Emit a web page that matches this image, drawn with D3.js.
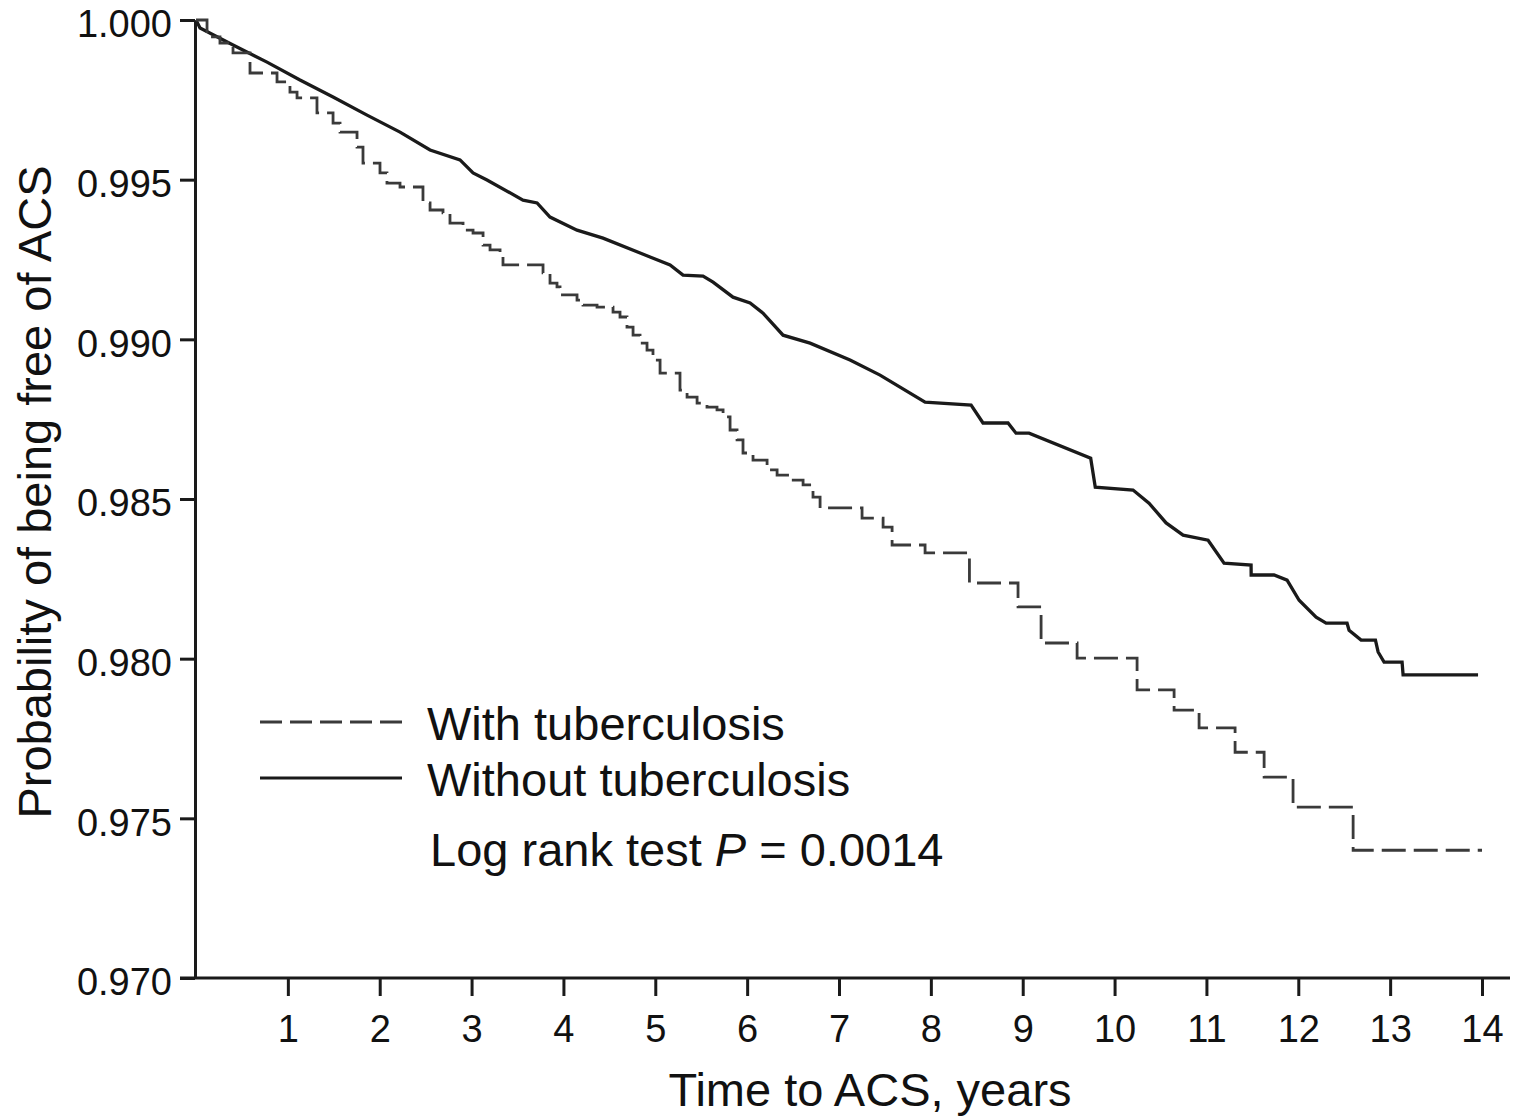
<!DOCTYPE html>
<html>
<head>
<meta charset="utf-8">
<script src="https://cdn.jsdelivr.net/npm/d3@7"></script>
<style>
  html, body { margin: 0; padding: 0; background: #fff; }
  svg { display: block; font-family: "Liberation Sans", Arial, sans-serif; }
</style>
</head>
<body>
<svg id="chart" width="1518" height="1117"></svg>
<script>
// ---- Data ----
const xTicks = [1, 2, 3, 4, 5, 6, 7, 8, 9, 10, 11, 12, 13, 14];
const yTicks = [0.970, 0.975, 0.980, 0.985, 0.990, 0.995, 1.000];

// With tuberculosis (step function: level after each event time)
const timeWithTB = [0, 0.120, 0.261, 0.403, 0.588, 0.882, 1.023, 1.100, 1.317, 1.492, 1.568, 1.753, 1.818,
  2.003, 2.079, 2.221, 2.471, 2.548, 2.689, 2.765, 2.907, 3.016, 3.125, 3.201, 3.310, 3.342, 3.778, 3.854,
  3.930, 3.963, 4.148, 4.213, 4.366, 4.540, 4.616, 4.692, 4.758, 4.834, 4.910, 4.975, 5.052, 5.269, 5.346,
  5.455, 5.563, 5.672, 5.738, 5.814, 5.890, 5.955, 6.064, 6.217, 6.326, 6.467, 6.609, 6.717, 6.794, 7.251,
  7.480, 7.578, 7.937, 8.420, 8.949, 9.200, 9.592, 10.245, 10.648, 10.920, 11.312, 11.628, 11.943, 12.597, 14.0];
const survWithTB = [1.0000, 0.99947, 0.99928, 0.99897, 0.99834, 0.99806, 0.99774, 0.99756, 0.99709, 0.99677,
  0.99649, 0.99602, 0.99552, 0.99521, 0.99489, 0.99477, 0.99427, 0.99405, 0.99396, 0.99364, 0.99342, 0.99333,
  0.99295, 0.99280, 0.99258, 0.99233, 0.99208, 0.99176, 0.99164, 0.99139, 0.99123, 0.99107, 0.99101, 0.99085,
  0.99070, 0.99038, 0.99013, 0.98988, 0.98966, 0.98935, 0.98894, 0.98841, 0.98819, 0.98800, 0.98788, 0.98779,
  0.98757, 0.98716, 0.98685, 0.98644, 0.98622, 0.98591, 0.98575, 0.98559, 0.98544, 0.98506, 0.98472, 0.98440,
  0.98412, 0.98356, 0.98331, 0.98237, 0.98162, 0.98049, 0.98002, 0.97902, 0.97839, 0.97783, 0.97707, 0.97629,
  0.97535, 0.97400, 0.97400];

// Without tuberculosis (dense curve traced through its corners)
const timeWithoutTB = [0, 0.044, 0.403, 0.773, 1.132, 1.492, 1.862, 2.221, 2.548, 2.874, 3.016, 3.168, 3.560,
  3.713, 3.854, 4.148, 4.431, 4.943, 5.161, 5.302, 5.520, 5.629, 5.846, 6.032, 6.173, 6.391, 6.685, 7.120,
  7.447, 7.937, 8.438, 8.568, 8.840, 8.927, 9.069, 9.740, 9.790, 10.201, 10.375, 10.561, 10.746, 11.018,
  11.192, 11.486, 11.487, 11.736, 11.878, 12.009, 12.194, 12.303, 12.531, 12.553, 12.684, 12.840, 12.869,
  12.934, 13.130, 13.141, 13.957];
const survWithoutTB = [1.0000, 0.99975, 0.99922, 0.99868, 0.99812, 0.99759, 0.99702, 0.99649, 0.99593,
  0.99562, 0.99521, 0.99499, 0.99436, 0.99427, 0.99383, 0.99342, 0.99317, 0.99258, 0.99233, 0.99201, 0.99198,
  0.99179, 0.99132, 0.99114, 0.99082, 0.99013, 0.98988, 0.98935, 0.98888, 0.98803, 0.98794, 0.98738, 0.98738,
  0.98706, 0.98706, 0.98628, 0.98537, 0.98528, 0.98487, 0.98425, 0.98387, 0.98371, 0.98299, 0.98293, 0.98262,
  0.98262, 0.98246, 0.98183, 0.98130, 0.98111, 0.98111, 0.98089, 0.98058, 0.98058, 0.98021, 0.97989, 0.97989,
  0.97949, 0.97949];

const legendLabels = ["With tuberculosis", "Without tuberculosis"];
const testLabel = { pre: "Log rank test ", p: "P", post: " = 0.0014" };
const xTitle = "Time to ACS, years";
const yTitle = "Probability of being free of ACS";

// ---- Chart ----
const svg = d3.select("#chart");
const ink = "#1a1a1a";

const x = d3.scaleLinear().domain([0, 14]).range([196, 1482]);
const y = d3.scaleLinear().domain([0.970, 1.000]).range([978, 20]);

// Y axis
const yAxis = svg.append("g").attr("transform", `translate(${x(0) - 1},0)`)
  .call(d3.axisLeft(y).tickValues(yTicks).tickFormat(d3.format(".3f")).tickSize(15).tickSizeOuter(0));
yAxis.select(".domain").attr("stroke", ink).attr("stroke-width", 3);
yAxis.selectAll(".tick line").attr("stroke", ink).attr("stroke-width", 3);
yAxis.selectAll(".tick text").attr("font-size", 38).attr("fill", "#111")
  .attr("x", -23).attr("dy", "0.44em").attr("font-family", "Liberation Sans, Arial, sans-serif");

// X axis
const xAxis = svg.append("g").attr("transform", `translate(0,${y(0.970)})`)
  .call(d3.axisBottom(x).tickValues(xTicks).tickFormat(d3.format("d")).tickSize(18).tickSizeOuter(0));
xAxis.select(".domain").remove();
xAxis.append("line")
  .attr("x1", x(0) - 16).attr("x2", x(14) + 28).attr("y1", 0).attr("y2", 0)
  .attr("stroke", ink).attr("stroke-width", 3);
xAxis.selectAll(".tick line").attr("stroke", ink).attr("stroke-width", 3);
xAxis.selectAll(".tick text").attr("font-size", 38).attr("fill", "#111")
  .attr("y", 37).attr("dy", "0.71em").attr("font-family", "Liberation Sans, Arial, sans-serif");

// Curves
const dataWith = timeWithTB.map((t, i) => ({ t, s: survWithTB[i] }));
const dataWithout = timeWithoutTB.map((t, i) => ({ t, s: survWithoutTB[i] }));

svg.append("path").datum(dataWithout)
  .attr("fill", "none").attr("stroke", ink).attr("stroke-width", 3.3)
  .attr("stroke-linejoin", "miter")
  .attr("d", d3.line().x(d => x(d.t)).y(d => y(d.s)).curve(d3.curveLinear));

svg.append("path").datum(dataWith)
  .attr("fill", "none").attr("stroke", "#3a3a3a").attr("stroke-width", 2.8)
  .attr("stroke-dasharray", "24,8")
  .attr("d", d3.line().x(d => x(d.t)).y(d => y(d.s)).curve(d3.curveStepAfter));

// Legend
const leg = svg.append("g");
leg.append("line").attr("x1", 260).attr("x2", 402).attr("y1", 722).attr("y2", 722)
  .attr("stroke", "#3a3a3a").attr("stroke-width", 2.8).attr("stroke-dasharray", "22,8");
leg.append("line").attr("x1", 260).attr("x2", 402).attr("y1", 778).attr("y2", 778)
  .attr("stroke", ink).attr("stroke-width", 2.8);
leg.append("text").attr("x", 427).attr("y", 740).attr("font-size", 47).attr("fill", "#111").text(legendLabels[0]);
leg.append("text").attr("x", 427).attr("y", 796).attr("font-size", 47).attr("fill", "#111").text(legendLabels[1]);
const tt = leg.append("text").attr("x", 430).attr("y", 866).attr("font-size", 47).attr("fill", "#111");
tt.append("tspan").text(testLabel.pre);
tt.append("tspan").attr("font-style", "italic").text(testLabel.p);
tt.append("tspan").text(testLabel.post);

// Axis titles
svg.append("text").attr("x", 870).attr("y", 1106).attr("text-anchor", "middle")
  .attr("font-size", 47).attr("fill", "#111").text(xTitle);
svg.append("text").attr("transform", "translate(51,492) rotate(-90)").attr("text-anchor", "middle")
  .attr("font-size", 47).attr("fill", "#111").text(yTitle);
</script>
</body>
</html>
